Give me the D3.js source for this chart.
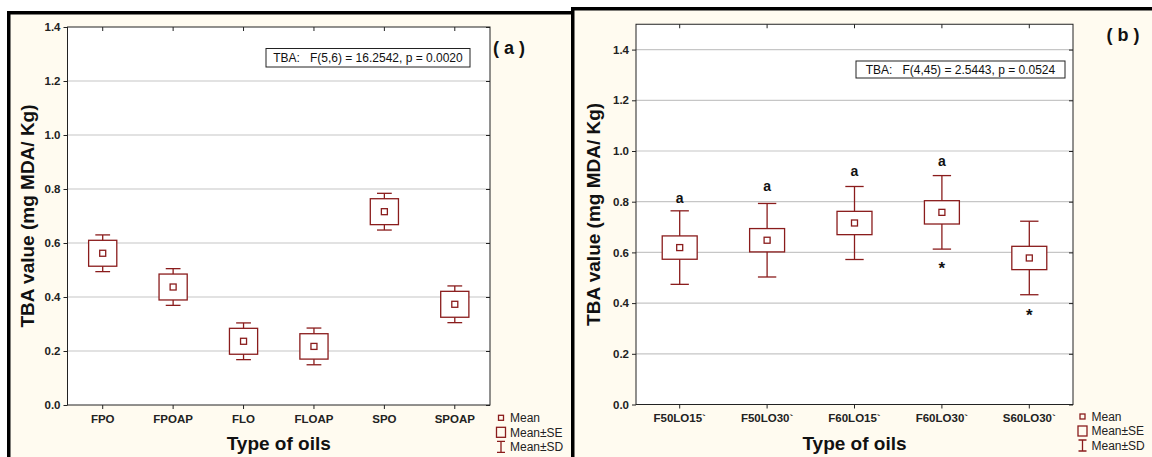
<!DOCTYPE html>
<html>
<head>
<meta charset="utf-8">
<script src="https://cdn.jsdelivr.net/npm/d3@7"></script>
<style>
  body { margin: 0; background: #fff; }
  svg { display: block; font-family: "Liberation Sans", Arial, sans-serif; }
</style>
</head>
<body>
<svg id="chart" width="1152" height="457"></svg>
<script>
// panel (a)
const oilsA = ["FPO", "FPOAP", "FLO", "FLOAP", "SPO", "SPOAP"];
const meanA = [0.562, 0.437, 0.236, 0.217, 0.716, 0.373];
const seA = [0.048, 0.048, 0.048, 0.047, 0.048, 0.048];
const sdA = [0.068, 0.068, 0.068, 0.068, 0.068, 0.068];
const statA = "TBA:   F(5,6) = 16.2542, p = 0.0020";

// panel (b)
const oilsB = ["F50LO15`", "F50LO30`", "F60LO15`", "F60LO30`", "S60LO30`"];
const meanB = [0.619, 0.648, 0.716, 0.758, 0.578];
const seB = [0.046, 0.046, 0.046, 0.046, 0.046];
const sdB = [0.145, 0.145, 0.144, 0.145, 0.145];
const letterB = ["a", "a", "a", "a", ""];
const letterYB = [0.809, 0.859, 0.916, 0.955, null];
const starB = ["", "", "", "*", "*"];
const starYB = [null, null, null, 0.553, 0.366];
const statB = "TBA:   F(4,45) = 2.5443, p = 0.0524";

const yTicks = [0, 0.2, 0.4, 0.6, 0.8, 1.0, 1.2, 1.4];
const legendLabels = ["Mean", "Mean±SE", "Mean±SD"];

const svg = d3.select("#chart");
const red = "#8a1c1c";

function drawPanel(o) {
  const g = svg.append("g");

  // panel background with thick black frame
  g.append("rect")
    .attr("x", o.bx).attr("y", o.by)
    .attr("width", o.bw).attr("height", 520)
    .attr("fill", "#fffbf0")
    .attr("stroke", "#000")
    .attr("stroke-width", 3.5);

  const x = d3.scaleBand().domain(o.cats).range([o.left, o.right]);
  const y = d3.scaleLinear().domain([0, o.ymax]).range([o.bottom, o.top]);
  const cx = d => x(d) + x.bandwidth() / 2;

  g.append("rect")
    .attr("x", o.left).attr("y", o.top)
    .attr("width", o.right - o.left).attr("height", o.bottom - o.top)
    .attr("fill", "#fff");

  g.selectAll(".grid")
    .data(yTicks.filter(d => d > 0 && y(d) > o.top + 1))
    .join("line")
    .attr("x1", o.left).attr("x2", o.right)
    .attr("y1", d => y(d)).attr("y2", d => y(d))
    .attr("stroke", "#c6c6c6")
    .attr("stroke-width", 1.2);

  // axes
  const left = g.append("g")
    .attr("transform", `translate(${o.left},0)`)
    .call(d3.axisLeft(y).tickValues(yTicks).tickSize(4).tickPadding(3).tickFormat(d3.format(".1f")));
  left.attr("font-family", null).attr("font-size", 11.5).attr("font-weight", "bold").attr("color", "#222");
  left.select(".domain").remove();

  g.append("g")
    .attr("transform", `translate(${o.right},0)`)
    .call(d3.axisRight(y).tickValues(yTicks).tickSize(-4).tickFormat(""))
    .attr("color", "#222")
    .select(".domain").remove();

  const bottom = g.append("g")
    .attr("transform", `translate(0,${o.bottom})`)
    .call(d3.axisBottom(x).tickSize(4));
  bottom.attr("font-family", null).attr("font-size", 11.5).attr("font-weight", "bold").attr("color", "#222");
  bottom.select(".domain").remove();
  bottom.selectAll("text").attr("dy", null).attr("y", o.xLabelY);

  g.append("g")
    .attr("transform", `translate(0,${o.top})`)
    .call(d3.axisTop(x).tickSize(-4).tickFormat(""))
    .attr("color", "#222")
    .select(".domain").remove();

  g.append("rect")
    .attr("x", o.left).attr("y", o.top)
    .attr("width", o.right - o.left).attr("height", o.bottom - o.top)
    .attr("fill", "none")
    .attr("stroke", "#222");

  // box and whiskers
  const rows = o.cats.map((c, i) => ({ c, m: o.mean[i], se: o.se[i], sd: o.sd[i] }));
  const bw = x.bandwidth() * 0.4;
  const cw = x.bandwidth() * 0.21;
  const marks = g.append("g").attr("stroke", red).attr("stroke-width", 1.3);

  marks.selectAll(".wh").data(rows).join("line")
    .attr("x1", d => cx(d.c)).attr("x2", d => cx(d.c))
    .attr("y1", d => y(d.m + d.sd)).attr("y2", d => y(d.m - d.sd));
  marks.selectAll(".capT").data(rows).join("line")
    .attr("x1", d => cx(d.c) - cw / 2).attr("x2", d => cx(d.c) + cw / 2)
    .attr("y1", d => y(d.m + d.sd)).attr("y2", d => y(d.m + d.sd));
  marks.selectAll(".capB").data(rows).join("line")
    .attr("x1", d => cx(d.c) - cw / 2).attr("x2", d => cx(d.c) + cw / 2)
    .attr("y1", d => y(d.m - d.sd)).attr("y2", d => y(d.m - d.sd));
  marks.selectAll(".box").data(rows).join("rect")
    .attr("x", d => cx(d.c) - bw / 2)
    .attr("y", d => y(d.m + d.se))
    .attr("width", bw)
    .attr("height", d => y(d.m - d.se) - y(d.m + d.se))
    .attr("fill", "#fff");
  marks.selectAll(".mean").data(rows).join("rect")
    .attr("x", d => cx(d.c) - 3)
    .attr("y", d => y(d.m) - 3)
    .attr("width", 6).attr("height", 6)
    .attr("fill", "#fff");

  // group letters and stars
  if (o.letters) {
    g.selectAll(".let").data(o.cats.filter((c, i) => o.letters[i]))
      .join("text")
      .attr("x", d => cx(d))
      .attr("y", d => y(o.letterY[o.cats.indexOf(d)]) + 4)
      .attr("text-anchor", "middle")
      .attr("font-size", 14).attr("font-weight", "bold").attr("fill", "#111")
      .text(d => o.letters[o.cats.indexOf(d)]);
    g.selectAll(".star").data(o.cats.filter((c, i) => o.stars[i]))
      .join("text")
      .attr("x", d => cx(d))
      .attr("y", d => y(o.starY[o.cats.indexOf(d)]) + 9.5)
      .attr("text-anchor", "middle")
      .attr("font-size", 17).attr("font-weight", "bold").attr("fill", "#111")
      .text(d => o.stars[o.cats.indexOf(d)]);
  }

  // statistics box
  g.append("rect")
    .attr("x", o.stat[0]).attr("y", o.stat[1])
    .attr("width", o.stat[2]).attr("height", o.stat[3])
    .attr("fill", "#fff").attr("stroke", "#222");
  g.append("text")
    .attr("x", o.stat[0] + o.stat[2] / 2)
    .attr("y", o.stat[1] + o.stat[3] / 2 + 4.2)
    .attr("text-anchor", "middle")
    .attr("font-size", 12).attr("fill", "#111")
    .style("white-space", "pre")
    .text(o.statText);

  // panel tag
  g.append("text")
    .attr("x", o.tag[0]).attr("y", o.tag[1])
    .attr("text-anchor", "middle")
    .attr("font-size", 18).attr("font-weight", "bold").attr("fill", "#111")
    .style("white-space", "pre")
    .text(o.tagText);

  // axis titles
  g.append("text")
    .attr("x", (o.left + o.right) / 2).attr("y", 450)
    .attr("text-anchor", "middle")
    .attr("font-size", 19).attr("font-weight", "bold").attr("fill", "#111")
    .text("Type of oils");
  g.append("text")
    .attr("transform", `translate(${o.yTitleX},${(o.top + o.bottom) / 2}) rotate(-90)`)
    .attr("text-anchor", "middle")
    .attr("font-size", 19).attr("font-weight", "bold").attr("fill", "#111")
    .text("TBA value (mg MDA/ Kg)");

  // legend
  const lg = g.append("g");
  const lx = o.legend[0];
  const ly = o.legend[1];
  lg.append("rect").attr("x", lx - 2.5).attr("y", ly - 7).attr("width", 5).attr("height", 5)
    .attr("fill", "none").attr("stroke", red).attr("stroke-width", 1.3);
  lg.append("rect").attr("x", lx - 4.5).attr("y", ly + 5).attr("width", 9).attr("height", 10)
    .attr("fill", "none").attr("stroke", red).attr("stroke-width", 1.3);
  lg.append("path")
    .attr("d", `M${lx - 4},${ly + 19}H${lx + 4}M${lx},${ly + 19}V${ly + 30}M${lx - 4},${ly + 30}H${lx + 4}`)
    .attr("fill", "none").attr("stroke", red).attr("stroke-width", 1.3);
  lg.selectAll("text").data(legendLabels).join("text")
    .attr("x", lx + 9)
    .attr("y", (d, i) => ly + i * 14.3)
    .attr("font-size", 12).attr("fill", "#222")
    .text(d => d);
}

drawPanel({
  bx: 8.75, by: 12.75, bw: 564.5,
  left: 67.5, right: 490, top: 27, bottom: 405, ymax: 1.4,
  cats: oilsA, mean: meanA, se: seA, sd: sdA,
  xLabelY: 18.3,
  stat: [266, 48.5, 204, 18.5], statText: statA,
  tag: [509, 53.5], tagText: "( a )",
  yTitleX: 33.5,
  legend: [501, 422.3]
});

drawPanel({
  bx: 572.75, by: 8.75, bw: 600,
  left: 636, right: 1073, top: 24.25, bottom: 404.5, ymax: 1.5,
  cats: oilsB, mean: meanB, se: seB, sd: sdB,
  letters: letterB, letterY: letterYB, stars: starB, starY: starYB,
  xLabelY: 17.2,
  stat: [856, 61, 209, 17], statText: statB,
  tag: [1123, 41.2], tagText: "( b )",
  yTitleX: 599.5,
  legend: [1082.5, 421]
});
</script>
</body>
</html>
